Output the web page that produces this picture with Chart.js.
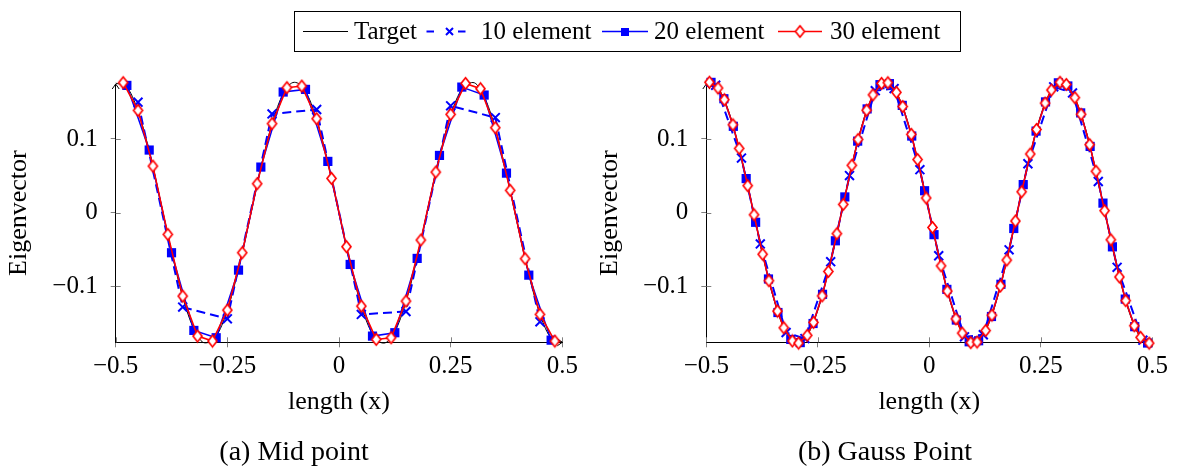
<!DOCTYPE html>
<html>
<head>
<meta charset="utf-8">
<title>Eigenvector: mid point vs Gauss point</title>
<script src="https://cdn.jsdelivr.net/npm/chart.js@4.4.1/dist/chart.umd.min.js"></script>
<style>
  html, body { margin: 0; padding: 0; background: #fff; }
  #wrap { position: relative; width: 1179px; height: 472px; overflow: hidden; }
  #wrap canvas { position: absolute; left: 0; top: 0; }
</style>
</head>
<body>
<div id="wrap">
  <canvas id="midChart" width="1179" height="472"></canvas>
  <canvas id="gaussChart" width="1179" height="472"></canvas>
</div>
<script>
// ---- values ----
const seriesNames = ['Target', '10 element', '20 element', '30 element'];

const xTicks = [-0.5, -0.25, 0, 0.25, 0.5];
const xTickLabels = ['\u22120.5', '\u22120.25', '0', '0.25', '0.5'];
const yTicks = [-0.1, 0, 0.1];
const yTickLabels = ['\u22120.1', '0', '0.1'];

// target curve (same in both panels)
const xTarget = [-0.5, -0.475, -0.45, -0.425, -0.4, -0.375, -0.35, -0.325, -0.3, -0.275, -0.25, -0.225, -0.2, -0.175, -0.15, -0.125, -0.1, -0.075, -0.05, -0.025,
  0, 0.025, 0.05, 0.075, 0.1, 0.125, 0.15, 0.175, 0.2, 0.225, 0.25, 0.275, 0.3, 0.325, 0.35, 0.375, 0.4, 0.425, 0.45, 0.475, 0.5];
const yTarget = [0.1757, 0.1701, 0.1379, 0.0840, 0.0169, -0.0528, -0.1143, -0.1578, -0.1766, -0.1676, -0.1324, -0.0764, -0.0085, 0.0611, 0.1207, 0.1614, 0.1769, 0.1647, 0.1266, 0.0687,
  0, -0.0687, -0.1266, -0.1647, -0.1769, -0.1614, -0.1207, -0.0611, 0.0085, 0.0764, 0.1324, 0.1676, 0.1766, 0.1578, 0.1143, 0.0528, -0.0169, -0.0840, -0.1379, -0.1701, -0.1757];

// (a) mid point
const xMid10 = [-0.45, -0.35, -0.25, -0.15, -0.05, 0.05, 0.15, 0.25, 0.35, 0.45];
const yMid10 = [0.150, -0.128, -0.144, 0.134, 0.140, -0.138, -0.134, 0.145, 0.129, -0.148];

const xMid20 = [-0.475, -0.425, -0.375, -0.325, -0.275, -0.225, -0.175, -0.125, -0.075, -0.025,
  0.025, 0.075, 0.125, 0.175, 0.225, 0.275, 0.325, 0.375, 0.425, 0.475];
const yMid20 = [0.1727, 0.0850, -0.0543, -0.1597, -0.1696, -0.0779, 0.0619, 0.1637, 0.1673, 0.0696,
  -0.0702, -0.1674, -0.1628, -0.0620, 0.0777, 0.1704, 0.1596, 0.0537, -0.0847, -0.1729];

const xMid30 = [-0.4833, -0.45, -0.4167, -0.3833, -0.35, -0.3167, -0.2833, -0.25, -0.2167, -0.1833, -0.15, -0.1167, -0.0833, -0.05, -0.0167,
  0.0167, 0.05, 0.0833, 0.1167, 0.15, 0.1833, 0.2167, 0.25, 0.2833, 0.3167, 0.35, 0.3833, 0.4167, 0.45, 0.4833];
const yMid30 = [0.1764, 0.1388, 0.0632, -0.0294, -0.1131, -0.1674, -0.1742, -0.1321, -0.0543, 0.0393, 0.1208, 0.1696, 0.1718, 0.1275, 0.0465,
  -0.0461, -0.1267, -0.1719, -0.1696, -0.1199, -0.0371, 0.0551, 0.1334, 0.1754, 0.1682, 0.1153, 0.0303, -0.0624, -0.1380, -0.1742];

// (b) Gauss point
const xGauss10 = [-0.4789, -0.4211, -0.3789, -0.3211, -0.2789, -0.2211, -0.1789, -0.1211, -0.0789, -0.0211,
  0.0211, 0.0789, 0.1211, 0.1789, 0.2211, 0.2789, 0.3211, 0.3789, 0.4211, 0.4789];
const yGauss10 = [0.1729, 0.0741, -0.0423, -0.1625, -0.1708, -0.0664, 0.0504, 0.1656, 0.1684, 0.0584,
  -0.0584, -0.1684, -0.1656, -0.0504, 0.0664, 0.1708, 0.1625, 0.0423, -0.0741, -0.1729];

const xGauss20 = [-0.4894, -0.4606, -0.4394, -0.4106, -0.3894, -0.3606, -0.3394, -0.3106, -0.2894, -0.2606,
  -0.2394, -0.2106, -0.1894, -0.1606, -0.1394, -0.1106, -0.0894, -0.0606, -0.0394, -0.0106,
  0.0106, 0.0394, 0.0606, 0.0894, 0.1106, 0.1394, 0.1606, 0.1894, 0.2106, 0.2394,
  0.2606, 0.2894, 0.3106, 0.3394, 0.3606, 0.3894, 0.4106, 0.4394, 0.4606, 0.4894];
const yGauss20 = [0.1768, 0.1546, 0.1172, 0.0463, -0.0130, -0.0899, -0.1354, -0.1719, -0.1762, -0.1503,
  -0.1107, -0.0381, 0.0214, 0.0971, 0.1408, 0.1737, 0.1751, 0.1456, 0.1040, 0.0298,
  -0.0298, -0.1040, -0.1456, -0.1751, -0.1737, -0.1408, -0.0971, -0.0214, 0.0381, 0.1107,
  0.1503, 0.1762, 0.1719, 0.1354, 0.0899, 0.0130, -0.0463, -0.1172, -0.1546, -0.1768];

const xGauss30 = [-0.4930, -0.4737, -0.4596, -0.4404, -0.4263, -0.4071, -0.3930, -0.3737, -0.3596, -0.3404,
  -0.3263, -0.3071, -0.2930, -0.2737, -0.2596, -0.2404, -0.2263, -0.2071, -0.1930, -0.1737,
  -0.1596, -0.1404, -0.1263, -0.1071, -0.0930, -0.0737, -0.0596, -0.0404, -0.0263, -0.0071,
  0.0071, 0.0263, 0.0404, 0.0596, 0.0737, 0.0930, 0.1071, 0.1263, 0.1404, 0.1596,
  0.1737, 0.1930, 0.2071, 0.2263, 0.2404, 0.2596, 0.2737, 0.2930, 0.3071, 0.3263,
  0.3404, 0.3596, 0.3737, 0.3930, 0.4071, 0.4263, 0.4404, 0.4596, 0.4737, 0.4930];
const yGauss30 = [0.1770, 0.1691, 0.1533, 0.1193, 0.0872, 0.0367, -0.0028, -0.0563, -0.0923, -0.1335,
  -0.1561, -0.1740, -0.1769, -0.1664, -0.1487, -0.1129, -0.0797, -0.0284, 0.0113, 0.0643,
  0.0994, 0.1390, 0.1599, 0.1754, 0.1763, 0.1633, 0.1440, 0.1063, 0.0721, 0.0200,
  -0.0200, -0.0721, -0.1063, -0.1440, -0.1633, -0.1763, -0.1754, -0.1599, -0.1390, -0.0994,
  -0.0643, -0.0113, 0.0284, 0.0797, 0.1129, 0.1487, 0.1664, 0.1769, 0.1740, 0.1561,
  0.1335, 0.0923, 0.0563, 0.0028, -0.0367, -0.0872, -0.1193, -0.1533, -0.1691, -0.1770];

// ---- styling ----
const serif = "'Liberation Serif', 'Times New Roman', serif";
const blue = '#0000ff';
const red = '#ff0000';

const pts = (xs, ys) => xs.map((x, i) => ({ x: x, y: ys[i] }));

// pgfplots style diamond (taller than wide, white inside)
function diamondMarker() {
  const c = document.createElement('canvas');
  c.width = 13; c.height = 15;
  const g = c.getContext('2d');
  g.beginPath();
  g.moveTo(6.5, 1.8); g.lineTo(11, 7.5); g.lineTo(6.5, 13.2); g.lineTo(2, 7.5);
  g.closePath();
  g.fillStyle = '#fff'; g.fill();
  g.strokeStyle = red; g.lineWidth = 1.7; g.stroke();
  return c;
}
const diamond = diamondMarker();

function makeDatasets(s10, s20, s30) {
  const sets = [
    { label: seriesNames[0], data: pts(xTarget, yTarget), borderColor: '#000', borderWidth: 1,
      pointRadius: 0, cubicInterpolationMode: 'monotone', order: 3 },
    { label: seriesNames[1], data: s10, borderColor: blue, borderWidth: 2, borderDash: [9, 5],
      pointStyle: 'crossRot', pointRadius: 6.3, pointBorderWidth: 2, pointBorderColor: blue, order: 2 },
    { label: seriesNames[2], data: s20, borderColor: blue, borderWidth: 1.5,
      pointStyle: 'rect', pointRadius: 6.5, pointBorderWidth: 0, pointBackgroundColor: blue, order: 1 },
    { label: seriesNames[3], data: s30, borderColor: red, borderWidth: 1.6,
      pointStyle: diamond, pointRadius: 5, order: 0 }
  ];
  return sets.map(d => Object.assign({ showLine: true, fill: false, clip: false, tension: 0, pointHoverRadius: 0 }, d));
}

// inner half of the tick marks and the axis arrow heads (axis lines=left)
const axisDecor = {
  id: 'axisDecor',
  beforeDatasetsDraw(chart) {
    const { ctx, chartArea: a, scales } = chart;
    ctx.save();
    ctx.strokeStyle = '#808080';
    ctx.lineWidth = 1;
    ctx.beginPath();
    xTicks.forEach(v => {
      const p = Math.round(scales.x.getPixelForValue(v)) + 0.5;
      ctx.moveTo(p, a.bottom); ctx.lineTo(p, a.bottom - 5);
    });
    yTicks.forEach(v => {
      const p = Math.round(scales.y.getPixelForValue(v)) + 0.5;
      ctx.moveTo(a.left, p); ctx.lineTo(a.left + 5, p);
    });
    ctx.stroke();
    ctx.strokeStyle = '#000';
    ctx.beginPath();
    ctx.moveTo(a.left - 3.5, a.top + 5); ctx.lineTo(a.left, a.top); ctx.lineTo(a.left + 3.5, a.top + 5);
    ctx.moveTo(a.right - 5, a.bottom - 3.5); ctx.lineTo(a.right, a.bottom); ctx.lineTo(a.right - 5, a.bottom + 3.5);
    ctx.stroke();
    ctx.restore();
  }
};

const caption = {
  id: 'caption',
  afterDraw(chart, args, opts) {
    const ctx = chart.ctx;
    ctx.save();
    ctx.font = opts.size + 'px ' + serif;
    ctx.fillStyle = '#000';
    ctx.textAlign = 'center';
    ctx.textBaseline = 'middle';
    ctx.fillText(opts.text, opts.x, opts.y);
    ctx.restore();
  }
};

// shared legend box across the top of both panels
const legendBox = {
  id: 'legendBox',
  afterDraw(chart) {
    const ctx = chart.ctx;
    const cy = 31.5;
    const seg = (x0, x1) => { ctx.beginPath(); ctx.moveTo(x0, cy); ctx.lineTo(x1, cy); ctx.stroke(); };
    ctx.save();
    ctx.strokeStyle = '#000';
    ctx.lineWidth = 1;
    ctx.strokeRect(294.5, 11.5, 666, 40);

    // Target
    seg(303, 348);
    // 10 element
    ctx.strokeStyle = blue; ctx.lineWidth = 2;
    seg(426.5, 434); seg(458, 465.5);
    ctx.beginPath();
    ctx.moveTo(446, cy - 3.5); ctx.lineTo(453, cy + 3.5);
    ctx.moveTo(446, cy + 3.5); ctx.lineTo(453, cy - 3.5);
    ctx.stroke();
    // 20 element
    ctx.lineWidth = 1.5;
    seg(602, 648);
    ctx.fillStyle = blue;
    ctx.fillRect(621, cy - 3.5, 8, 8);
    // 30 element
    ctx.strokeStyle = red; ctx.lineWidth = 1.6;
    seg(778, 822);
    ctx.drawImage(diamond, 800 - diamond.width / 2, cy - diamond.height / 2);

    ctx.font = '25px ' + serif;
    ctx.fillStyle = '#000';
    ctx.textAlign = 'left';
    ctx.textBaseline = 'middle';
    const textX = [354, 481, 654, 830];
    seriesNames.forEach((n, i) => ctx.fillText(n, textX[i], cy + 1));
    ctx.restore();
  }
};

function makeOptions(padLeft, padRight, yWidth, captionText, captionX) {
  return {
    responsive: false,
    animation: false,
    events: [],
    layout: { padding: { left: padLeft, right: padRight, top: 84, bottom: 54.4 } },
    plugins: {
      legend: { display: false },
      tooltip: { enabled: false },
      caption: { text: captionText, x: captionX, y: 453, size: 28 }
    },
    scales: {
      x: {
        type: 'linear', min: -0.5, max: 0.5,
        afterBuildTicks: s => { s.ticks = xTicks.map(v => ({ value: v })); },
        afterFit: s => { s.height = 75.3; },
        ticks: { callback: (v, i) => xTickLabels[i], color: '#000', font: { family: serif, size: 25 },
                 padding: 4, maxRotation: 0, minRotation: 0, autoSkip: false },
        grid: { drawOnChartArea: false, drawTicks: true, tickLength: 5, color: '#808080' },
        border: { display: true, color: '#000', width: 1 },
        title: { display: true, text: 'length (x)', color: '#000', font: { family: serif, size: 26 }, padding: 0 }
      },
      y: {
        type: 'linear', min: -0.1758, max: 0.1746,
        afterBuildTicks: s => { s.ticks = yTicks.map(v => ({ value: v })); },
        afterFit: s => { s.width = yWidth; },
        ticks: { callback: (v, i) => yTickLabels[i], color: '#000', font: { family: serif, size: 25 },
                 padding: 13, autoSkip: false },
        grid: { drawOnChartArea: false, drawTicks: true, tickLength: 5, color: '#808080' },
        border: { display: true, color: '#000', width: 1 },
        title: { display: true, text: 'Eigenvector', color: '#000', font: { family: serif, size: 26 }, padding: 0 }
      }
    }
  };
}

new Chart(document.getElementById('midChart'), {
  type: 'scatter',
  data: { datasets: makeDatasets(pts(xMid10, yMid10), pts(xMid20, yMid20), pts(xMid30, yMid30)) },
  options: makeOptions(3.9, 616.7, 111.8, '(a) Mid point', 294),
  plugins: [axisDecor, caption, legendBox]
});

new Chart(document.getElementById('gaussChart'), {
  type: 'scatter',
  data: { datasets: makeDatasets(pts(xGauss10, yGauss10), pts(xGauss20, yGauss20), pts(xGauss30, yGauss30)) },
  options: makeOptions(594.6, 26.7, 111.7, '(b) Gauss Point', 885),
  plugins: [axisDecor, caption]
});
</script>
</body>
</html>
